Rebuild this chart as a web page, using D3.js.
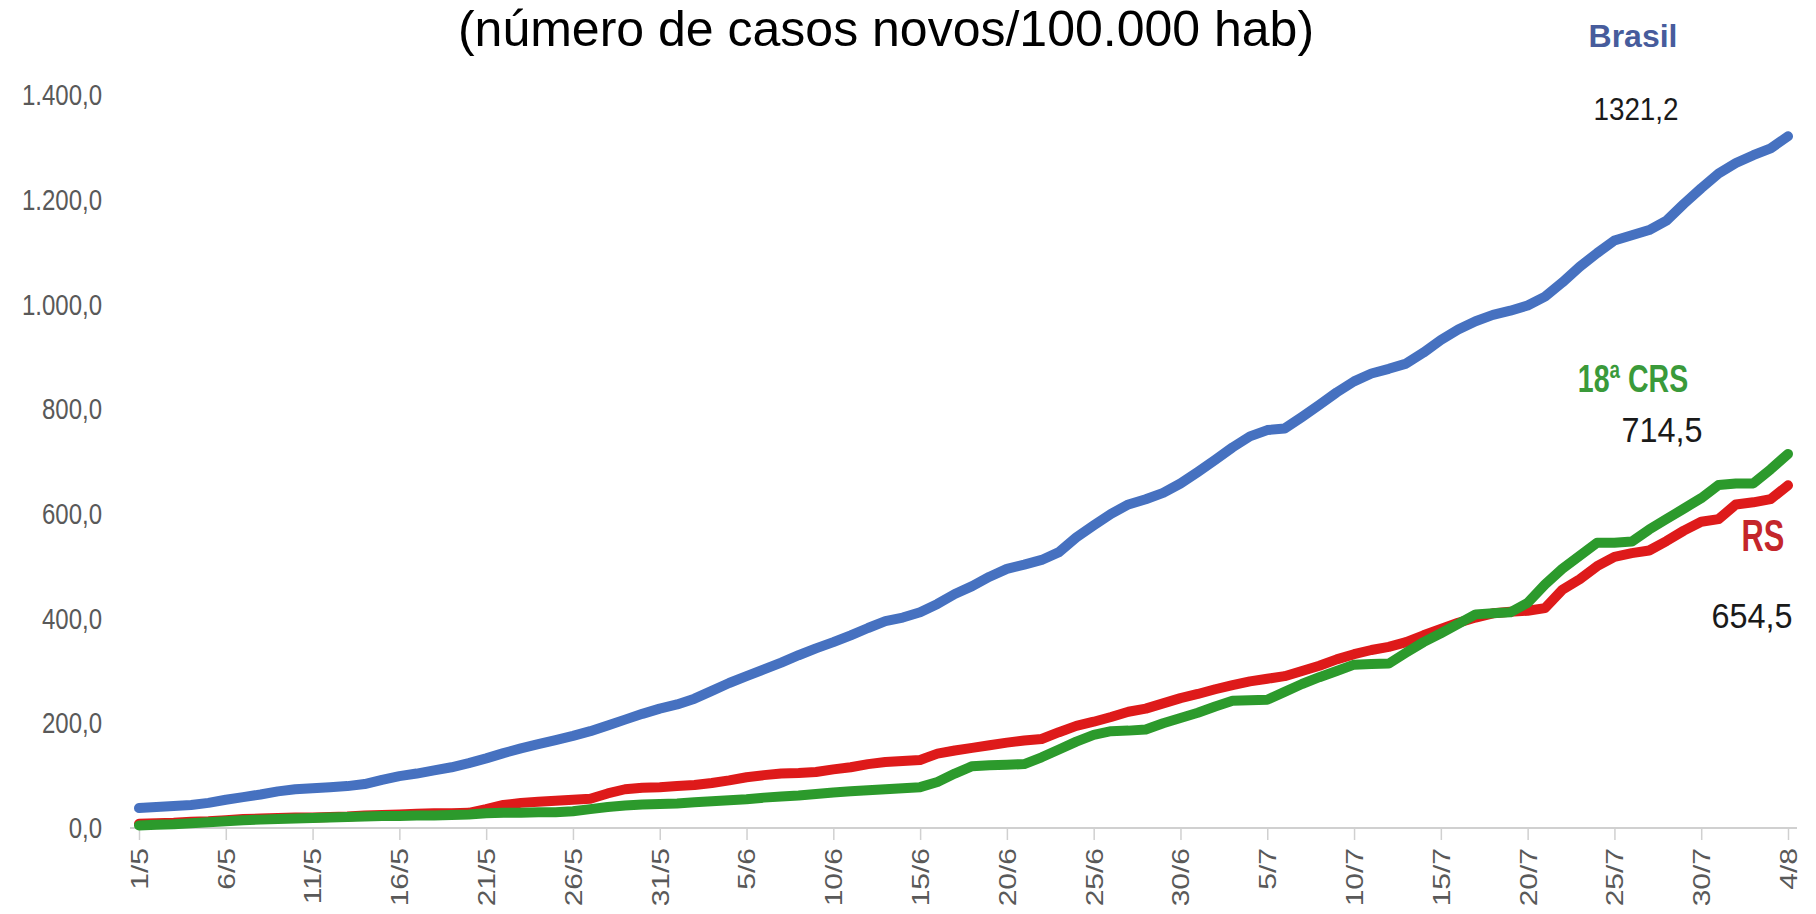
<!DOCTYPE html>
<html>
<head>
<meta charset="utf-8">
<script src="https://cdn.jsdelivr.net/npm/d3@7"></script>
<style>
  body { margin: 0; background: #fff; }
  svg { display: block; }
  .narrow { font-family: 'Liberation Sans', Arial, sans-serif; }
</style>
</head>
<body>
<div id="chart"></div>
<script>
// dias de 1/5 a 4/8
const days = d3.timeDay.range(new Date(2020, 4, 1), new Date(2020, 7, 5));
const dayLabels = days.map(d3.timeFormat('%-d/%-m'));

const brasil = [
  38, 40, 42, 44, 48, 54, 59, 64, 70, 74,
  76, 78, 80, 84, 92, 99, 104, 110, 116, 124,
  133, 143, 152, 160, 168, 176, 185, 196, 207, 218,
  228, 236, 247, 262, 277, 290, 303, 316, 330, 343,
  355, 368, 382, 395, 402, 412, 428, 447, 462, 480,
  495, 503, 512, 527, 555, 578, 600, 618, 628, 640,
  658, 680, 703, 727, 748, 760, 763, 785, 808, 832,
  853, 868, 877, 887, 908, 932, 952, 968, 980, 988,
  998, 1015, 1042, 1072, 1098, 1122, 1132, 1142, 1160, 1192,
  1222, 1250, 1270, 1285, 1298, 1321.2,
];

const rs = [
  8, 9, 10, 12, 13, 15, 17, 18, 19, 20,
  20, 21, 22, 24, 25, 26, 27, 28, 28, 29,
  36, 44, 48, 50, 52, 54, 56, 66, 74, 77,
  78, 80, 82, 86, 91, 97, 101, 104, 105, 107,
  112, 116, 122, 126, 128, 130, 142, 148, 153, 158,
  163, 167, 170, 183, 195, 203, 212, 222, 228, 238,
  248, 256, 265, 273, 280, 285, 290, 300, 310, 322,
  332, 340, 346, 355, 368, 380, 392, 402, 410, 413,
  415, 420, 455, 475, 500, 518, 525, 530, 548, 568,
  585, 590, 618, 622, 628, 654.5,
];

const crs = [
  5, 6, 7, 9, 11, 13, 15, 16, 17, 18,
  19, 20, 21, 22, 23, 23, 24, 24, 25, 26,
  28, 29, 29, 30, 30, 32, 36, 40, 43, 45,
  46, 47, 49, 51, 53, 55, 58, 60, 62, 65,
  68, 70, 72, 74, 76, 78, 88, 104, 118, 120,
  121, 122, 135, 150, 165, 178, 185, 186, 188, 200,
  210, 220, 232, 243, 244, 245, 260, 275, 288, 300,
  312, 313, 314, 335, 355, 372, 390, 408, 410, 412,
  430, 465, 495, 520, 545, 545, 547, 570, 590, 610,
  630, 655, 658, 658, 685, 714.5,
];

const yTicks = [0, 200, 400, 600, 800, 1000, 1200, 1400];
const xTickIdx = d3.range(0, days.length, 5);

const ptBR = d3.formatLocale({ decimal: ',', thousands: '.', grouping: [3], currency: ['R$', ''] });
const fmtAxis = ptBR.format(',.1f');
const fmtVal = ptBR.format('.1f');

const width = 1816;
const height = 914;

const svg = d3.select('#chart').append('svg').attr('width', width).attr('height', height);

const x = d3.scaleLinear().domain([0, days.length - 1]).range([139, 1788]);
const y = d3.scaleLinear().domain([0, 1400]).range([828, 95]);

// titulo
svg.append('text')
  .attr('x', 886)
  .attr('y', 46)
  .attr('text-anchor', 'middle')
  .style('font-family', "'Liberation Sans', Arial, sans-serif")
  .style('font-size', '50px')
  .style('fill', '#000')
  .text('(número de casos novos/100.000 hab)');

// eixo y (fonte estreita simulada com scale)
const yAxis = svg.append('g')
  .attr('class', 'narrow')
  .attr('transform', `translate(${x(0)},0)`)
  .call(d3.axisLeft(y).tickValues(yTicks).tickFormat(fmtAxis).tickSize(0));
yAxis.select('.domain').remove();
yAxis.selectAll('text')
  .attr('x', 0)
  .attr('transform', 'translate(-37,0) scale(0.8,1)')
  .style('font-size', '30px')
  .style('fill', '#595959');

// eixo x
svg.append('line')
  .attr('x1', x(0) - 9).attr('x2', x(days.length - 1) + 9)
  .attr('y1', y(0)).attr('y2', y(0))
  .style('stroke', '#d0d0d0').style('stroke-width', 2);

const xAxis = svg.append('g')
  .attr('class', 'narrow')
  .attr('transform', `translate(0,${y(0)})`)
  .call(d3.axisBottom(x).tickValues(xTickIdx).tickFormat((i) => dayLabels[i]).tickSize(12).tickSizeOuter(0));
xAxis.select('.domain').remove();
xAxis.selectAll('.tick line').style('stroke', '#d0d0d0').style('stroke-width', 1.5);
xAxis.selectAll('text')
  .style('font-size', '30px')
  .style('fill', '#595959')
  .attr('text-anchor', 'end')
  .attr('transform', 'translate(0,20) rotate(-90) scale(1,0.8)')
  .attr('x', 0)
  .attr('y', 0)
  .attr('dy', '0.35em');

// linhas
const line = d3.line().x((d, i) => x(i)).y((d) => y(d));

const series = [
  { name: 'Brasil', values: brasil, color: '#4671c0' },
  { name: 'RS', values: rs, color: '#de1a1a' },
  { name: '18ª CRS', values: crs, color: '#2c9a2c' },
];

svg.selectAll('path.serie')
  .data(series)
  .enter()
  .append('path')
  .attr('class', 'serie')
  .attr('d', (d) => line(d.values))
  .style('fill', 'none')
  .style('stroke', (d) => d.color)
  .style('stroke-width', 10)
  .style('stroke-linejoin', 'round')
  .style('stroke-linecap', 'round');

// rotulos das series
const labels = [
  { text: 'Brasil', x: 1633, y: 47, size: 32, sx: 1, color: '#475c9c', bold: true },
  { text: fmtVal(brasil[brasil.length - 1]), x: 1636, y: 120, size: 32, sx: 0.87, color: '#1a1a1a', bold: false },
  { text: '18ª CRS', x: 1633, y: 392, size: 38, sx: 0.75, color: '#3a9a3a', bold: true },
  { text: fmtVal(crs[crs.length - 1]), x: 1662, y: 442, size: 36, sx: 0.9, color: '#1a1a1a', bold: false },
  { text: 'RS', x: 1763, y: 551, size: 44, sx: 0.7, color: '#c4262b', bold: true },
  { text: fmtVal(rs[rs.length - 1]), x: 1752, y: 628, size: 36, sx: 0.9, color: '#1a1a1a', bold: false },
];

svg.selectAll('text.rotulo')
  .data(labels)
  .enter()
  .append('text')
  .attr('class', 'rotulo narrow')
  .attr('transform', (d) => `translate(${d.x},${d.y}) scale(${d.sx},1)`)
  .attr('text-anchor', 'middle')
  .style('font-size', (d) => `${d.size}px`)
  .style('font-weight', (d) => (d.bold ? 'bold' : 'normal'))
  .style('fill', (d) => d.color)
  .text((d) => d.text);
</script>
</body>
</html>
